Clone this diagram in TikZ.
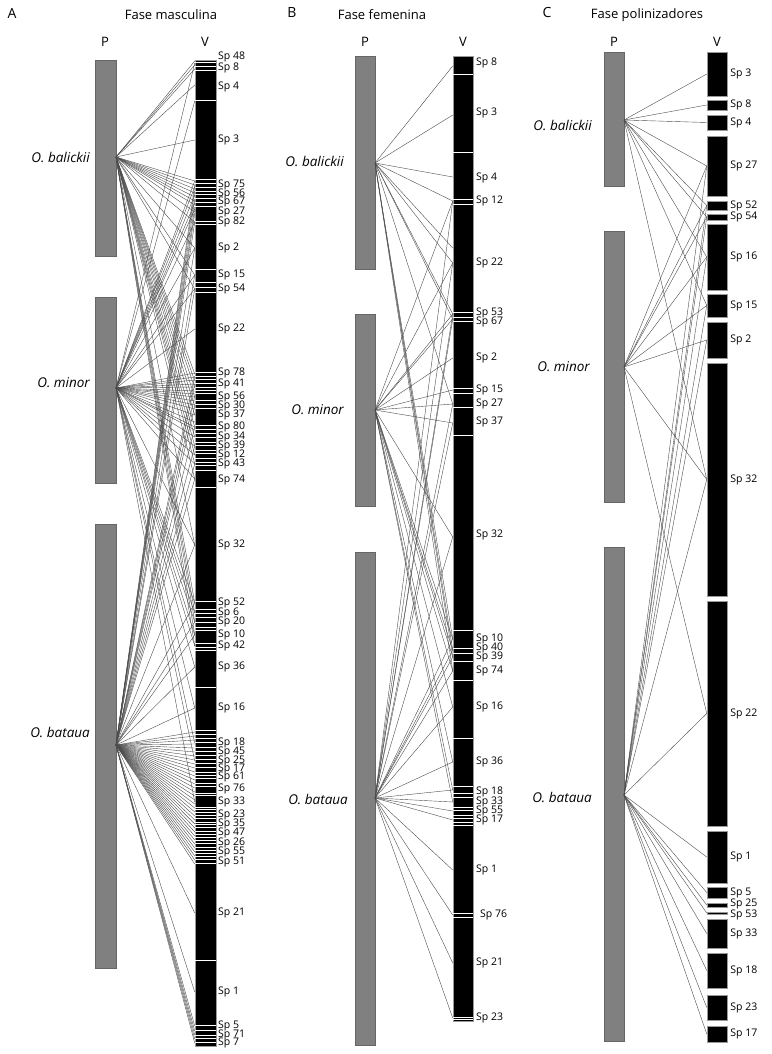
\documentclass[tikz,border=0pt]{standalone}
\usepackage{fontspec}
\setmainfont{Open Sans}
\usetikzlibrary{positioning}

\tikzset{
  pbar/.style={draw=black!60, fill=black!50, line width=0.4pt, inner sep=0pt},
  vbar/.style={draw=black!40, fill=black, line width=0.5pt, inner sep=0pt, minimum width=20pt},
  sepline/.style={white, line width=1pt},
  link/.style={black!70, line width=0.4pt},
  splabel/.style={anchor=west, inner sep=0pt, font=\fontsize{10.5}{10.5}\selectfont},
  plabel/.style={anchor=east, inner sep=0pt, font=\fontsize{13.5}{13.5}\selectfont\itshape},
  ttl/.style={inner sep=0pt, font=\fontsize{13}{13}\selectfont},
  letter/.style={inner sep=0pt, font=\fontsize{14}{14}\selectfont},
}

\begin{document}
\begin{tikzpicture}[x=1pt, y=-1pt]
\useasboundingbox (0,0) rectangle (771,1054);

% ---------- A: fase masculina
\node[letter] (aLet) at (12,13) {A};
\node[ttl] (aTtl) at (171,15) {Fase masculina};
\node[ttl] (aPh) at (105,42) {P};
\node[ttl] (aVh) at (205,42) {V};
\node[pbar, minimum width=21pt, minimum height=196pt] (aP1) at (105.5,158) {};
\node[pbar, minimum width=21pt, minimum height=186pt] (aP2) at (105.5,390) {};
\node[pbar, minimum width=21pt, minimum height=444pt] (aP3) at (105.5,746) {};
\node[plabel] (aBalL) at (90,157) {O. balickii};
\node[plabel] (aMinL) at (90,383) {O. minor};
\node[plabel] (aBatL) at (90,732) {O. bataua};
\coordinate (aBal) at (116,157);
\coordinate (aMin) at (116,388);
\coordinate (aBat) at (116,745);
\node[vbar, minimum width=21pt, minimum height=986pt] (aV) at (205.5,553) {};
\foreach \s in {63,67,71,101,179,183,187,191,194,198,202,206,221,224,269,282,287,292,
  372,376,379,383,387,390,393,400,404,408,425,429,433,437,442,445,450,453,458,462,465,470,487,
  601,609,613,617,622,627,630,643,647,650,687,730,734,738,742,747,751,755,759,763,767,
  772,775,778,783,786,793,795,807,809,812,815,818,822,824,827,831,834,837,840,843,847,850,
  853,856,859,863,960,1025,1030,1035,1038,1042}
  \draw[sepline] (aV.west |- 0,\s) -- (aV.east |- 0,\s);
\foreach \t in {61,65,69,85,140,181,185,189,193,197,201,205,212,222,248,275,289,374,381,
  388,397,406,415,427,437,446,455,464,479,545,603,613,622,635,646}
  \draw[link] (aBal) -- (aV.west |- 0,\t);
\foreach \t in {63,101,181,187,195,203,209,222,248,275,289,329,373,377,380,384,387,391,394,
  397,401,405,409,415,422,427,430,437,446,455,464,479,545,603,613,622,635,646,667,708,743,761,802}
  \draw[link] (aMin) -- (aV.west |- 0,\t);
\foreach \t in {185,191,199,207,213,222,248,275,289,376,384,396,406,427,446,464,479,545,603,
  622,635,667,708,732,736,740,744,748,752,756,760,764,768,772,776,780,784,788,792,796,800,
  804,808,812,816,820,824,828,832,836,840,844,848,852,856,860,864,913,992,1026,1031,1035,1039,1043}
  \draw[link] (aBat) -- (aV.west |- 0,\t);
\foreach \n/\y in {48/57,8/68,4/87,3/140,75/185,56/194,67/202,27/212,82/222,2/248,15/275,
  54/289,22/329,78/373,41/384,56/397,30/406,37/415,80/427,34/437,39/446,12/455,43/464,74/480,
  32/545,52/603,6/613,20/622,10/635,42/646,36/667,16/708,18/743,45/752,25/761,17/769,61/777,
  76/789,33/802,23/815,35/824,47/833,26/843,55/852,51/862,21/913,1/992,5/1026,71/1035,7/1043}
  \node[splabel] (al\y) at (218,\y) {Sp \n};

% ---------- B: fase femenina
\node[letter] (bLet) at (292,13) {B};
\node[ttl] (bTtl) at (382,15) {Fase femenina};
\node[ttl] (bPh) at (365,42) {P};
\node[ttl] (bVh) at (463,42) {V};
\node[pbar, minimum width=20pt, minimum height=213pt] (bP1) at (365,162.5) {};
\node[pbar, minimum width=20pt, minimum height=192pt] (bP2) at (365,410) {};
\node[pbar, minimum width=20pt, minimum height=493pt] (bP3) at (365,798.5) {};
\node[plabel] (bBalL) at (344,161) {O. balickii};
\node[plabel] (bMinL) at (344,410) {O. minor};
\node[plabel] (bBatL) at (348,799) {O. bataua};
\coordinate (bBal) at (375,163);
\coordinate (bMin) at (375,410);
\coordinate (bBat) at (375,798);
\node[vbar, minimum height=965pt] (bV) at (463,538.5) {};
\foreach \s in {75,152,199,204,312,317,321,388,393,407,435,630,648,653,661,680,738,786,
  793,797,807,810,815,818,822,825,913,917,1017,1019}
  \draw[sepline] (bV.west |- 0,\s) -- (bV.east |- 0,\s);
\foreach \t in {66,115,177,201,248,263,314,319,404,639,650,657,671}
  \draw[link] (bBal) -- (bV.west |- 0,\t);
\foreach \t in {201,263,314,319,358,390,404,423,537,639,650,657,671,707,762,790,802}
  \draw[link] (bMin) -- (bV.west |- 0,\t);
\foreach \t in {201,263,314,319,404,423,537,639,650,657,671,707,762,790,802,811,820,870,
  915,963,1018}
  \draw[link] (bBat) -- (bV.west |- 0,\t);
\foreach \n/\y in {8/63,3/113,4/178,12/201,22/263,53/313,67/322,2/358,15/390,27/404,37/422,
  32/535,10/639,40/648,39/657,74/671,16/707,36/762,18/792,33/802,55/811,17/820,1/870,21/963,23/1018}
  \node[splabel] (bl\y) at (476,\y) {Sp \n};
\node[splabel] (bl915) at (480,915) {Sp 76};

% ---------- C: fase polinizadores
\node[letter] (cLet) at (547,13) {C};
\node[ttl] (cTtl) at (647,15) {Fase polinizadores};
\node[ttl] (cPh) at (614,42) {P};
\node[ttl] (cVh) at (717,42) {V};
\node[pbar, minimum width=20pt, minimum height=134pt] (cP1) at (614,119) {};
\node[pbar, minimum width=20pt, minimum height=271pt] (cP2) at (614,366.5) {};
\node[pbar, minimum width=20pt, minimum height=494pt] (cP3) at (614,794) {};
\node[plabel] (cBalL) at (592,125) {O. balickii};
\node[plabel] (cMinL) at (590,367) {O. minor};
\node[plabel] (cBatL) at (592,797) {O. bataua};
\coordinate (cBal) at (624,120);
\coordinate (cMin) at (624,367);
\coordinate (cBat) at (624,795);
\foreach \n/\top/\bot/\dy in {3/52/96/0,8/100/110/0,4/115/130/0,27/136/196/0,52/201/210/0,
  54/214/220/0,16/224/290/0,15/294/317/0,2/322/358/0,32/363/596/0,22/601/826/0,1/831/883/0,
  5/887/898/0,25/903/907/1.5,53/912/914/-1.5,33/919/948/0,18/953/988/0,23/995/1020/0,17/1026/1042/0}
{
  \node[vbar, minimum height={(\bot-\top)*1pt}] (cs\n) at (717,{(\top+\bot)/2}) {};
  \node[splabel, right=3pt of cs\n, yshift=\dy pt] (cl\n) {Sp \n};
}
\foreach \n in {3,8,4,27,52,54,16,15,32}
  \draw[link] (cBal) -- (cs\n.west);
\foreach \n in {27,52,54,16,15,2,32,22}
  \draw[link] (cMin) -- (cs\n.west);
\foreach \n in {27,52,54,16,15,2,32,22,1,5,25,53,33,18,23,17}
  \draw[link] (cBat) -- (cs\n.west);
\end{tikzpicture}
\end{document}
